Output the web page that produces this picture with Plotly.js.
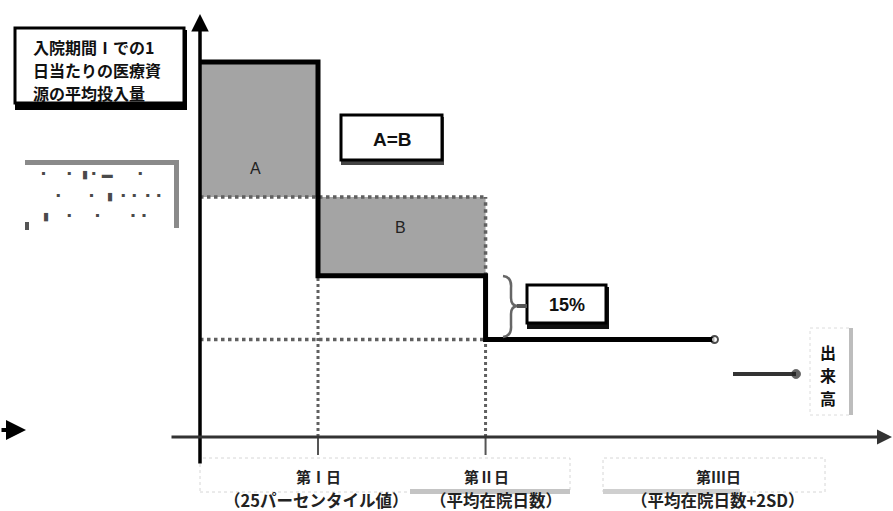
<!DOCTYPE html>
<html><head><meta charset="utf-8">
<script src="https://cdn.plot.ly/plotly-3.0.1.min.js"></script>
<style>html,body{margin:0;padding:0;background:#fff}#chart{width:893px;height:511px}</style>
</head><body><div id="chart"></div>
<script>
// ---- data ----
const periodBounds = [0, 5, 12.1, 21.8];      // day 0, 第Ⅰ日, 第Ⅱ日, 第Ⅲ日
const dailyInput   = [100, 43, 26];           // points per day in period I, II, III
const averageLevel = 64;                      // average resource input level (A = B line)
const dayLabels = ['第Ⅰ日', '第Ⅱ日', '第Ⅲ日'];
const dayNotes  = ['（25パーセンタイル値）', '（平均在院日数）', '（平均在院日数+2SD）'];
const titleLines = ['入院期間Ⅰでの1', '日当たりの医療資', '源の平均投入量'];
const sideLabel = ['出', '来', '高'];

// ---- pixel helpers for layout decorations ----
const W = 893, H = 511, XS = 23.6, YS = 3.75, X0 = 200, Y0 = 437;
const dx = p => (p - X0) / XS, dy = p => (Y0 - p) / YS;
const PX = p => p / W, PY = p => 1 - p / H;
const FONT = '"Noto Sans CJK JP", "Noto Sans", sans-serif';

const b = periodBounds, L = dailyInput, avg = averageLevel;
const gray = '#a4a4a4', dotc = '#606060';

const traces = [
  {x:[b[0],b[1],b[1],b[0]], y:[avg,avg,L[0],L[0]], fill:'toself', fillcolor:gray, mode:'lines', line:{width:0}},
  {x:[b[1],b[2],b[2],b[1]], y:[L[1],L[1],avg,avg], fill:'toself', fillcolor:gray, mode:'lines', line:{width:0}},
  {x:[b[0],b[2]], y:[avg,avg], mode:'lines', line:{color:dotc,width:3.5,dash:'dot'}},
  {x:[b[2],b[2]], y:[L[1],avg], mode:'lines', line:{color:dotc,width:3.5,dash:'dot'}},
  {x:[b[0],b[2]], y:[L[2],L[2]], mode:'lines', line:{color:dotc,width:3.5,dash:'dot'}},
  {x:[b[1],b[1]], y:[0,L[1]], mode:'lines', line:{color:dotc,width:3,dash:'dot'}},
  {x:[b[2],b[2]], y:[0,L[2]], mode:'lines', line:{color:dotc,width:3,dash:'dot'}},
  // tick marks
  {x:[b[1],b[1]], y:[0,dy(455)], mode:'lines', line:{color:'#555',width:2}},
  {x:[b[2],b[2]], y:[0,dy(455)], mode:'lines', line:{color:'#555',width:2}},
  // step line
  {x:[b[0],b[1],b[1],b[2],b[2],b[3]], y:[L[0],L[0],L[1],L[1],L[2],L[2]], mode:'lines+markers',
   line:{color:'#000',width:5,shape:'linear'},
   marker:{size:[0,0,0,0,0,7],color:'#fff',line:{color:'#000',width:2}}},
  // 出来高 arrow
  {x:[dx(733),dx(796)], y:[dy(374),dy(374)], mode:'lines+markers', line:{color:'#333',width:4},
   marker:{size:[0,9],color:'#222'}}
];

const arrow = (x, y, ax, ay, w, c) => ({x, y, ax, ay, xref:'x', yref:'y', axref:'x', ayref:'y',
  text:'', showarrow:true, arrowhead:2, arrowsize:1, arrowwidth:w, arrowcolor:c, standoff:0, startstandoff:0});
const txt = (x, y, text, font, extra) => Object.assign({xref:'paper', yref:'paper', x:PX(x), y:PY(y),
  text, showarrow:false, xanchor:'center', yanchor:'middle', font}, extra || {});

const titleFont = {family:FONT,size:16,color:'#111',weight:700};
const dotFont = {family:FONT,size:11,color:'#4a4a4a'};
const ann = [
  arrow(0, dy(14), 0, dy(465), 3.5, '#000'),
  arrow(dx(892), 0, dx(170), 0, 3, '#333'),
  arrow(dx(26), dy(430), dx(0), dy(430), 4, '#000'),
  txt(255, 168, 'A', {family:'Liberation Sans, Arial',size:16,color:'#222'}),
  txt(400, 227, 'B', {family:'Liberation Sans, Arial',size:16,color:'#222'}),
  txt(392, 139, 'A=B', {family:'Liberation Sans, Arial',size:19,color:'#111',weight:700}),
  txt(567, 305, '15%', {family:'Liberation Sans, Arial',size:18,color:'#111',weight:700}),
  txt(36, 173, '▪      ▪   ▮▪ ▬         ▪', dotFont, {xanchor:'left'}),
  txt(36, 195, '      ▪         ▪    ▮  ▪▪ ▪▪', dotFont, {xanchor:'left'}),
  txt(36, 215, '  ▮      ▪       ▪          ▪▪', dotFont, {xanchor:'left'})
];
const titleY = [47, 70, 93];
titleLines.forEach((t, i) => ann.push(txt(31, titleY[i], t, titleFont, {xanchor:'left'})));
const sideY = [352, 375, 398];
sideLabel.forEach((t, i) => ann.push(txt(828, sideY[i], t, {family:FONT,size:16,color:'#111',weight:700})));

const dayPx = [318, 486, 718];
const notePx = [316, 496, 718];
for (let i = 0; i < 3; i++) {
  ann.push({x:b[i+1], xshift:dayPx[i] - (X0 + b[i+1]*XS), y:dy(476), text:dayLabels[i], showarrow:false,
    xanchor:'center', yanchor:'middle', font:{family:FONT,size:15,color:'#222',weight:700}});
  ann.push({x:b[i+1], xshift:notePx[i] - (X0 + b[i+1]*XS), y:dy(500), text:dayNotes[i], showarrow:false,
    xanchor:'center', yanchor:'middle', font:{family:FONT,size:16.5,color:'#222',weight:700}});
}

const rect = (x0,y0,x1,y1,o) => Object.assign({type:'rect', xref:'paper', yref:'paper',
  x0:PX(x0), x1:PX(x1), y0:PY(y1), y1:PY(y0)}, o);
const shapes = [
  rect(200,458,570,492,{line:{color:'#d6d6d6',width:1,dash:'dot'},layer:'below'}),
  rect(603,458,825,492,{line:{color:'#d6d6d6',width:1,dash:'dot'},layer:'below'}),
  rect(410,489,570,494,{fillcolor:'#c4c4c4',line:{width:0},layer:'below'}),
  rect(603,489,740,494,{fillcolor:'#cfcfcf',line:{width:0},layer:'below'}),
  rect(810,328,852,415,{line:{color:'#dcdcdc',width:1,dash:'dot'},layer:'below'}),
  rect(849,328,853,415,{fillcolor:'#bdbdbd',line:{width:0},layer:'below'}),
  // legend bracket and stray mark
  rect(25,160,178,165,{fillcolor:'#8a8a8a',line:{width:0}}),
  rect(174,160,179,228,{fillcolor:'#8a8a8a',line:{width:0}}),
  rect(25,222,29,230,{fillcolor:'#555',line:{width:0}}),
  // title box
  rect(15,30,187,110,{fillcolor:'#000',line:{width:0}}),
  rect(15,28,184,103,{fillcolor:'#fff',line:{color:'#000',width:3}}),
  // A=B box
  rect(341,117,444,165,{fillcolor:'#444',line:{width:0}}),
  rect(341,115,442,160,{fillcolor:'#fff',line:{color:'#000',width:3}}),
  // 15% box
  rect(527,287,609,329,{fillcolor:'#111',line:{width:0}}),
  rect(527,285,606,323,{fillcolor:'#fff',line:{color:'#000',width:3}}),
  // brace
  {type:'path', xref:'x', yref:'y',
   path:`M ${dx(503)} ${dy(276)} Q ${dx(512)} ${dy(277)} ${dx(511)} ${dy(288)} L ${dx(511)} ${dy(298)} Q ${dx(511)} ${dy(306)} ${dx(518)} ${dy(306)} Q ${dx(511)} ${dy(306)} ${dx(511)} ${dy(314)} L ${dx(511)} ${dy(325)} Q ${dx(512)} ${dy(336)} ${dx(503)} ${dy(337)}`,
   line:{color:'#666',width:2.5}},
  {type:'line', xref:'x', yref:'y', x0:dx(517), x1:dx(527), y0:dy(306), y1:dy(306), line:{color:'#555',width:4}}
];

const layout = {
  width:W, height:H, margin:{l:0,r:0,t:0,b:0}, showlegend:false,
  paper_bgcolor:'#fff', plot_bgcolor:'#fff',
  xaxis:{range:[dx(0), dx(W)], visible:false, fixedrange:true},
  yaxis:{range:[dy(H), dy(0)], visible:false, fixedrange:true},
  annotations:ann, shapes:shapes
};
Plotly.newPlot('chart', traces, layout, {staticPlot:true});
</script></body></html>
